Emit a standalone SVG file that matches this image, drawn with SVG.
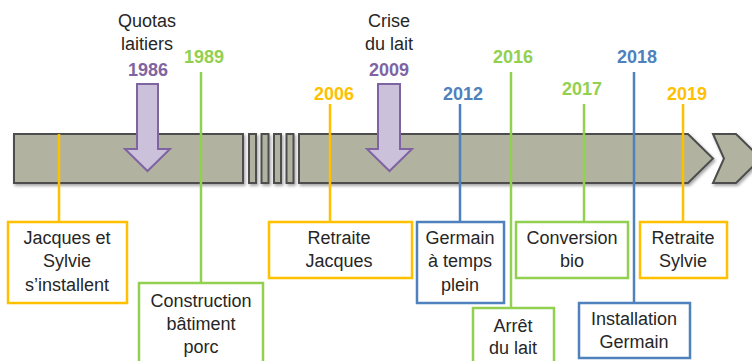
<svg xmlns="http://www.w3.org/2000/svg" width="752" height="361" viewBox="0 0 752 361">
<defs>
<filter id="sh" x="-10%" y="-30%" width="120%" height="160%">
<feDropShadow dx="1.5" dy="2" stdDeviation="1.5" flood-color="#000" flood-opacity="0.35"/>
</filter>
<style>
.bar{fill:#b1b3a0;stroke:#4d4d4d;stroke-width:2;stroke-linejoin:miter}
.qa{fill:#ccc1da;stroke:#8064a2;stroke-width:2}
.t{font-family:"Liberation Sans",Arial,sans-serif;font-size:18px;fill:#262626;text-anchor:middle}
.y{font-family:"Liberation Sans",Arial,sans-serif;font-size:18px;font-weight:bold;text-anchor:middle}
.box{fill:#fff;stroke-width:2.5}
.ln{stroke-width:2.5;fill:none}
.o{stroke:#ffc000}.g{stroke:#92d050}.b{stroke:#4f81bd}
.fo{fill:#ffc000}.fg{fill:#92d050}.fb{fill:#4f81bd}.fp{fill:#8064a2}
</style>
</defs>
<rect width="752" height="361" fill="#fff"/>
<g id="timeline" filter="url(#sh)">
<rect class="bar" x="14" y="134" width="229" height="49"/>
<rect class="bar" x="249" y="134" width="7" height="49"/>
<rect class="bar" x="261.5" y="134" width="7" height="49"/>
<rect class="bar" x="274" y="134" width="7" height="49"/>
<rect class="bar" x="286.5" y="134" width="7" height="49"/>
<polygon class="bar" points="299,134 688,134 713,158.5 688,183 299,183"/>
<polygon class="bar" points="713,134 736,134 761,158.5 736,183 713,183 724,158.5"/>
</g>
<g id="connectors">
<line class="ln o" x1="59" y1="134" x2="59" y2="222"/>
<line class="ln g" x1="201" y1="72" x2="201" y2="283"/>
<line class="ln o" x1="330" y1="104" x2="330" y2="222"/>
<line class="ln b" x1="460" y1="104" x2="460" y2="222"/>
<line class="ln g" x1="511" y1="72" x2="511" y2="308"/>
<line class="ln g" x1="584" y1="104" x2="584" y2="222"/>
<line class="ln b" x1="634" y1="72" x2="634" y2="303"/>
<line class="ln o" x1="683" y1="104" x2="683" y2="222"/>
</g>
<g id="quotas">
<text class="t" x="147" y="27">Quotas</text>
<text class="t" x="147" y="50">laitiers</text>
<text class="y fp" x="148" y="76">1986</text>
<polygon class="qa" points="137,84 158,84 158,149 170,149 147.5,171 125,149 137,149"/>
</g>
<g id="crise">
<text class="t" x="389" y="27">Crise</text>
<text class="t" x="389" y="50">du lait</text>
<text class="y fp" x="389" y="76">2009</text>
<polygon class="qa" points="378,84 400,84 400,149 412,149 389.5,171 367,149 378,149"/>
</g>
<g id="installation1">
<rect class="box o" x="8" y="222" width="119" height="81"/>
<text class="t" x="67" y="244">Jacques et</text>
<text class="t" x="67" y="267">Sylvie</text>
<text class="t" x="67" y="291">s’installent</text>
</g>
<g id="construction">
<text class="y fg" x="204" y="63">1989</text>
<rect class="box g" x="139" y="283" width="124" height="90"/>
<text class="t" x="201" y="307">Construction</text>
<text class="t" x="201" y="330">bâtiment</text>
<text class="t" x="201" y="353">porc</text>
</g>
<g id="retraite-jacques">
<text class="y fo" x="334" y="100">2006</text>
<rect class="box o" x="269" y="222" width="143" height="56"/>
<text class="t" x="339" y="244">Retraite</text>
<text class="t" x="339" y="267">Jacques</text>
</g>
<g id="germain-plein">
<text class="y fb" x="463" y="100">2012</text>
<rect class="box b" x="417" y="222" width="87" height="81"/>
<text class="t" x="460" y="244">Germain</text>
<text class="t" x="460" y="267">à temps</text>
<text class="t" x="460" y="291">plein</text>
</g>
<g id="arret-lait">
<text class="y fg" x="513" y="63">2016</text>
<rect class="box g" x="473" y="308" width="81" height="60"/>
<text class="t" x="513" y="332">Arrêt</text>
<text class="t" x="513" y="354">du lait</text>
</g>
<g id="conversion">
<text class="y fg" x="582" y="95">2017</text>
<rect class="box g" x="516" y="222" width="112" height="56"/>
<text class="t" x="572" y="244">Conversion</text>
<text class="t" x="572" y="267">bio</text>
</g>
<g id="installation-germain">
<text class="y fb" x="637" y="63">2018</text>
<rect class="box b" x="579" y="303" width="111" height="55"/>
<text class="t" x="634" y="325">Installation</text>
<text class="t" x="634" y="348">Germain</text>
</g>
<g id="retraite-sylvie">
<text class="y fo" x="687" y="100">2019</text>
<rect class="box o" x="640" y="222" width="87" height="56"/>
<text class="t" x="683" y="244">Retraite</text>
<text class="t" x="683" y="267">Sylvie</text>
</g>
</svg>
